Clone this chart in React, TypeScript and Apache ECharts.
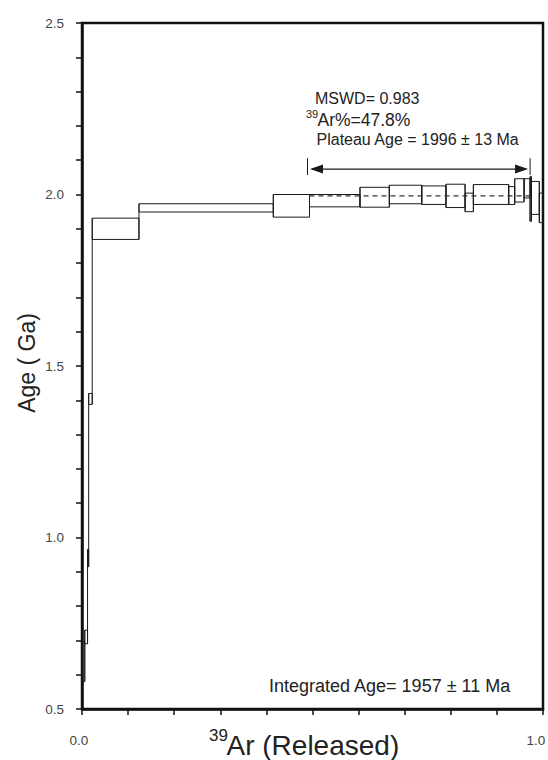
import React, { useEffect, useRef } from 'react';
import * as echarts from 'echarts';

// cumulative 39Ar fraction at each step boundary
const stepEdges = [0, 0.006, 0.012, 0.0145, 0.0222, 0.1236, 0.415, 0.4935, 0.603, 0.6667, 0.737, 0.7896, 0.831, 0.849, 0.9256, 0.9386, 0.959, 0.972, 0.975, 0.992, 1.0];
// apparent age of each step (Ga)
const stepAges = [0.638, 0.71, 0.94, 1.404, 1.9, 1.961, 1.967, 1.982, 1.992, 2.0, 1.998, 1.996, 1.977, 2.0, 1.997, 2.012, 2.018, 1.987, 1.99, 1.961];
// half-height (error) of each step box (Ga)
const stepErrors = [0.058, 0.02, 0.025, 0.016, 0.031, 0.012, 0.033, 0.018, 0.029, 0.027, 0.027, 0.034, 0.027, 0.029, 0.026, 0.034, 0.028, 0.065, 0.048, 0.043];

const plateauRange = [0.4935, 0.972];
const plateauAge = 1.996;
const arrowAge = 2.074;
const arrowTickAges = [2.057, 2.106];

const yTicks = [0.5, 1.0, 1.5, 2.0, 2.5];
const xLabelValues = [0, 1];

const FONT = 'Liberation Sans, Arial, Helvetica, sans-serif';

export default function App() {
  const ref = useRef<HTMLDivElement>(null);

  useEffect(() => {
    if (!ref.current) return;
    const chart = echarts.init(ref.current, undefined, { renderer: 'svg' });

    const stepData = stepAges.map((age, i) => {
      const prevLo = i > 0 ? stepAges[i - 1] - stepErrors[i - 1] : NaN;
      const prevHi = i > 0 ? stepAges[i - 1] + stepErrors[i - 1] : NaN;
      return [stepEdges[i], stepEdges[i + 1], age, stepErrors[i], prevLo, prevHi];
    });

    const option: any = {
      animation: false,
      backgroundColor: '#ffffff',
      textStyle: { fontFamily: FONT },
      grid: {
        left: 82,
        right: 5,
        top: 23,
        bottom: 51,
        show: true,
        borderColor: '#111',
        borderWidth: 2.5,
        backgroundColor: 'transparent',
        containLabel: false,
        outerBoundsMode: 'none',
      },
      xAxis: {
        type: 'value',
        min: 0,
        max: 1,
        interval: 0.1,
        axisLine: { show: true, lineStyle: { color: '#111', width: 2.5 } },
        axisTick: { show: true, length: 6, inside: false, lineStyle: { color: '#111', width: 1.5 } },
        splitLine: { show: false },
        axisLabel: {
          margin: 24,
          fontSize: 13.5,
          color: '#444',
          fontFamily: FONT,
          showMinLabel: true,
          showMaxLabel: true,
          hideOverlap: false,
          formatter: (v: number) => {
            if (Math.abs(v - xLabelValues[0]) < 1e-9) return '{l|' + xLabelValues[0].toFixed(1) + '}';
            if (Math.abs(v - xLabelValues[1]) < 1e-9) return '{r|' + xLabelValues[1].toFixed(1) + '}';
            return '';
          },
          rich: {
            l: { fontSize: 13.5, color: '#444', fontFamily: FONT, padding: [0, 6, 0, 0] },
            r: { fontSize: 13.5, color: '#444', fontFamily: FONT, padding: [0, 14, 0, 0] },
          },
        },
      },
      yAxis: {
        type: 'value',
        min: yTicks[0],
        max: yTicks[yTicks.length - 1],
        interval: 0.5,
        axisLine: { show: true, lineStyle: { color: '#111', width: 2.5 } },
        axisTick: { show: true, length: 6, lineStyle: { color: '#111', width: 1.5 } },
        minorTick: { show: true, splitNumber: 5, length: 6, lineStyle: { color: '#111', width: 1.5 } },
        splitLine: { show: false },
        minorSplitLine: { show: false },
        axisLabel: {
          margin: 18,
          fontSize: 13.5,
          color: '#444',
          fontFamily: FONT,
          formatter: (v: number) => v.toFixed(1),
        },
      },
      series: [
        {
          type: 'custom',
          name: 'steps',
          encode: { x: [0, 1], y: [2] },
          data: stepData,
          clip: false,
          renderItem: (params: any, api: any) => {
            const x0 = api.value(0);
            const x1 = api.value(1);
            const age = api.value(2);
            const err = api.value(3);
            const prevLo = api.value(4);
            const prevHi = api.value(5);
            const tl = api.coord([x0, age + err]);
            const br = api.coord([x1, age - err]);
            const children: any[] = [
              {
                type: 'rect',
                shape: { x: tl[0], y: tl[1], width: br[0] - tl[0], height: br[1] - tl[1] },
                style: { fill: 'none', stroke: '#1a1a1a', lineWidth: 1 },
              },
            ];
            if (!isNaN(prevLo) && !isNaN(prevHi)) {
              const lo = Math.min(prevLo, age - err);
              const hi = Math.max(prevHi, age + err);
              const p1 = api.coord([x0, lo]);
              const p2 = api.coord([x0, hi]);
              children.push({
                type: 'line',
                shape: { x1: p1[0], y1: p1[1], x2: p2[0], y2: p2[1] },
                style: { stroke: '#1a1a1a', lineWidth: 1 },
              });
            }
            return { type: 'group', children };
          },
        },
        {
          type: 'line',
          name: 'plateau',
          data: [
            [plateauRange[0], plateauAge],
            [plateauRange[1], plateauAge],
          ],
          symbol: 'none',
          lineStyle: { color: '#333', width: 1.2, type: [5, 4] },
          z: 3,
        },
        {
          type: 'custom',
          name: 'arrow',
          encode: { x: [0, 1], y: [2, 3, 4] },
          data: [[plateauRange[0], plateauRange[1], arrowAge, arrowTickAges[0], arrowTickAges[1]]],
          clip: false,
          renderItem: (params: any, api: any) => {
            const a = api.coord([api.value(0), api.value(2)]);
            const b = api.coord([api.value(1), api.value(2)]);
            const tLo = api.coord([api.value(0), api.value(3)]);
            const tHi = api.coord([api.value(0), api.value(4)]);
            const y = a[1];
            const lx = a[0] - 2;
            const rx = b[0];
            const tipL = a[0] + 0.5;
            const tipR = b[0] - 2;
            const headLen = 13;
            const headHalf = 4.5;
            const stroke = '#1a1a1a';
            return {
              type: 'group',
              children: [
                {
                  type: 'line',
                  shape: { x1: tipL + 2, y1: y, x2: tipR - 2, y2: y },
                  style: { stroke, lineWidth: 1.2 },
                },
                {
                  type: 'polygon',
                  shape: { points: [[tipL, y], [tipL + headLen, y - headHalf], [tipL + headLen, y + headHalf]] },
                  style: { fill: stroke },
                },
                {
                  type: 'polygon',
                  shape: { points: [[tipR, y], [tipR - headLen, y - headHalf], [tipR - headLen, y + headHalf]] },
                  style: { fill: stroke },
                },
                {
                  type: 'line',
                  shape: { x1: lx, y1: tLo[1], x2: lx, y2: tHi[1] },
                  style: { stroke, lineWidth: 1 },
                },
                {
                  type: 'line',
                  shape: { x1: rx, y1: tLo[1], x2: rx, y2: tHi[1] },
                  style: { stroke, lineWidth: 1 },
                },
              ],
            };
          },
        },
      ],
      graphic: [
        {
          type: 'text',
          left: 315,
          top: 90,
          style: { text: 'MSWD= 0.983', font: `16px ${FONT}`, fill: '#222' },
        },
        {
          type: 'text',
          left: 306,
          top: 108,
          style: { text: '39', font: `11px ${FONT}`, fill: '#222' },
        },
        {
          type: 'text',
          left: 317.5,
          top: 110.5,
          style: { text: 'Ar%=47.8%', font: `17.5px ${FONT}`, fill: '#222' },
        },
        {
          type: 'text',
          left: 316.5,
          top: 131.5,
          style: { text: 'Plateau Age = 1996 ± 13 Ma', font: `16px ${FONT}`, fill: '#222' },
        },
        {
          type: 'text',
          left: 269,
          top: 677,
          style: { text: 'Integrated Age= 1957 ± 11 Ma', font: `18px ${FONT}`, fill: '#222' },
        },
        {
          type: 'text',
          left: 209,
          top: 727,
          style: { text: '39', font: `17px ${FONT}`, fill: '#222' },
        },
        {
          type: 'text',
          left: 226.5,
          top: 731,
          style: { text: 'Ar (Released)', font: `28px ${FONT}`, fill: '#222' },
        },
        {
          type: 'text',
          x: 27,
          y: 363,
          rotation: Math.PI / 2,
          style: {
            text: 'Age ( Ga)',
            font: `23px ${FONT}`,
            fill: '#222',
            align: 'center',
            verticalAlign: 'middle',
          },
        },
      ],
    };

    chart.setOption(option);
    return () => {
      chart.dispose();
    };
  }, []);

  return (
    <div
      ref={ref}
      style={{ position: 'fixed', left: 0, top: 0, width: 548, height: 760, background: '#fff' }}
    />
  );
}
